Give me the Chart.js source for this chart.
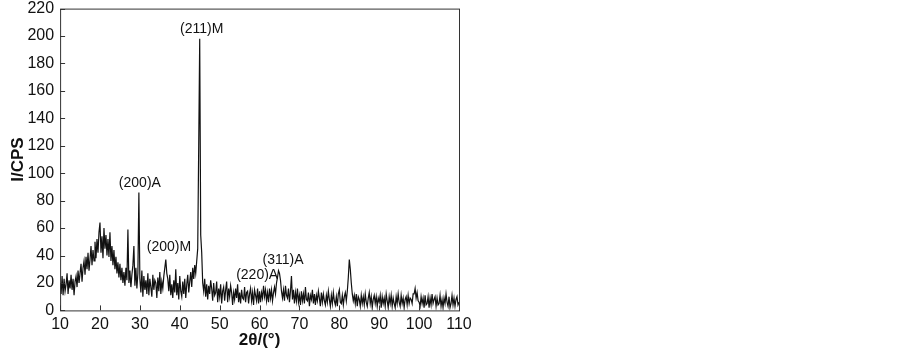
<!DOCTYPE html>
<html>
<head>
<meta charset="utf-8">
<script src="https://cdn.jsdelivr.net/npm/chart.js@4.4.1/dist/chart.umd.min.js"></script>
<style>
    html, body { margin: 0; padding: 0; background: #fff; }
    #wrap { width: 903px; height: 356px; overflow: hidden; }
    #xrdChart { display: block; margin-top: -7px; }
</style>
</head>
<body>
<div id="wrap"><canvas id="xrdChart" width="903" height="363"></canvas></div>
<script>
// scan settings (2θ, degrees)
const scanStart = 10;
const scanStep = 0.25;

// intensity, 4 readings per degree, 10° .. 110°
const intensity = [
    20, 12, 25, 11,   23, 14, 19, 27,   12, 22, 16, 26,   15, 23, 11, 21,   25, 17, 29, 20,   // 10-14
    27, 34, 21, 31,   36, 26, 39, 30,   42, 29, 37, 47,   33, 44, 36, 50,   38, 52, 42, 57,   // 15-19
    64, 42, 54, 38,   60, 45, 55, 40,   52, 39, 57, 36,   47, 33, 44, 30,   39, 27, 35, 24,   // 20-24
    34, 22, 31, 20,   28, 18, 31, 22,   59, 20, 29, 17,   26, 33, 47, 18,   31, 16, 27, 86,   // 25-29
    23, 13, 29, 10,   25, 15, 22, 12,   27, 11, 23, 17,   10, 26, 15, 22,   20, 9, 24, 14,    // 30-34
    28, 12, 21, 16,   25, 31, 37, 27,   23, 14, 26, 11,   19, 9, 22, 13,    30, 11, 20, 8,    // 35-39
    25, 14, 10, 21,   12, 23, 9, 19,    26, 13, 21, 28,   17, 31, 23, 33,   27, 36, 45, 120,  // 40-44
    198, 55, 42, 20,  14, 23, 10, 19,   8, 18, 12, 22,    16, 7, 20, 11,    13, 21, 6, 16,    // 45-49
    10, 19, 5, 14,    17, 7, 15, 21,    6, 16, 10, 18,    13, 4, 13, 8,     16, 9, 19, 6,     // 50-54
    13, 5, 15, 9,     8, 17, 6, 13,     14, 5, 12, 16,    7, 13, 4, 15,     11, 7, 16, 5,     // 55-59
    14, 6, 13, 9,     18, 10, 15, 7,    13, 6, 16, 9,     15, 7, 13, 17,    12, 20, 24, 29,   // 60-64
    27, 22, 14, 9,    15, 7, 18, 11,    9, 16, 6, 14,     25, 8, 15, 5,     13, 7, 16, 6,     // 65-69
    11, 4, 14, 7,     12, 5, 17, 8,     7, 13, 3, 11,     8, 15, 5, 12,     4, 11, 7, 14,     // 70-74
    9, 3, 13, 6,      12, 7, 4, 11,     6, 14, 8, 3,      11, 5, 13, 7,     4, 10, 3, 12,     // 75-79
    15, 6, 5, 11,     4, 10, 13, 7,     14, 24, 37, 30,   20, 12, 7, 11,    5, 12, 3, 10,     // 80-84
    8, 3, 11, 5,      10, 4, 12, 6,     3, 9, 13, 5,      10, 2, 8, 11,     5, 10, 3, 9,      // 85-89
    6, 11, 2, 10,     5, 9, 3, 12,      7, 2, 10, 5,      11, 3, 9, 5,      2, 10, 5, 12,     // 90-94
    6, 3, 11, 5,      9, 2, 8, 10,      4, 11, 5, 9,      8, 5, 12, 12,     16, 9, 13, 7,     // 95-99
    6, 3, 10, 5,      9, 2, 11, 4,      5, 10, 2, 9,      4, 12, 5, 8,      10, 3, 9, 4,      // 100-104
    5, 11, 3, 8,      2, 9, 5, 12,      6, 3, 10, 2,      5, 11, 4, 9,      3, 8, 10, 4,      // 105-109
    6                                                                                          // 110
];

// peak labels: text, 2θ, intensity where the label sits
const peakNames = ['(211)M', '(200)A', '(200)M', '(220)A', '(311)A'];
const peakAngles = [45.5, 30.0, 37.3, 59.4, 65.9];
const peakLevels = [205, 93, 46, 25.5, 36.5];

const xTicks = [10, 20, 30, 40, 50, 60, 70, 80, 90, 100, 110];

const points = intensity.map((v, i) => ({ x: scanStart + i * scanStep, y: v }));

const fontFamily = '"Liberation Sans", Arial, sans-serif';

// box around the plot + inward ticks + peak labels
const framePlugin = {
    id: 'frame',
    afterDraw(chart) {
        const { ctx, chartArea: a, scales } = chart;
        ctx.save();
        ctx.strokeStyle = '#333';
        ctx.lineWidth = 1;
        ctx.strokeRect(a.left + 0.5, a.top + 0.5, a.right - a.left, a.bottom - a.top);

        ctx.beginPath();
        scales.x.ticks.forEach(t => {
            const px = Math.round(scales.x.getPixelForValue(t.value)) + 0.5;
            ctx.moveTo(px, a.bottom);
            ctx.lineTo(px, a.bottom - 5);
        });
        scales.y.ticks.forEach(t => {
            const py = Math.round(scales.y.getPixelForValue(t.value)) + 0.5;
            ctx.moveTo(a.left, py);
            ctx.lineTo(a.left + 5, py);
        });
        ctx.stroke();

        ctx.fillStyle = '#111';
        ctx.font = '14px ' + fontFamily;
        ctx.textAlign = 'center';
        ctx.textBaseline = 'middle';
        peakNames.forEach((name, i) => {
            ctx.fillText(name, scales.x.getPixelForValue(peakAngles[i]), scales.y.getPixelForValue(peakLevels[i]));
        });
        ctx.restore();
    }
};

new Chart(document.getElementById('xrdChart').getContext('2d'), {
    type: 'line',
    data: {
        datasets: [{
            data: points,
            borderColor: '#111',
            borderWidth: 1.2,
            pointRadius: 0,
            tension: 0,
            fill: false
        }]
    },
    options: {
        responsive: false,
        animation: false,
        devicePixelRatio: 1,
        layout: { padding: { left: 8, top: 0, right: 444, bottom: 5 } },
        plugins: {
            legend: { display: false },
            tooltip: { enabled: false }
        },
        scales: {
            x: {
                type: 'linear',
                min: 10,
                max: 110,
                afterBuildTicks: axis => { axis.ticks = xTicks.map(v => ({ value: v })); },
                grid: { display: false, drawTicks: false },
                border: { display: false },
                ticks: { color: '#111', padding: 5, font: { family: fontFamily, size: 16 }, maxRotation: 0 },
                title: { display: true, text: '2θ/(°)', color: '#111', padding: { top: -9, bottom: 0 }, font: { family: fontFamily, size: 17, weight: 'bold' } }
            },
            y: {
                min: 0,
                max: 220,
                grid: { display: false, drawTicks: false },
                border: { display: false },
                ticks: { stepSize: 20, color: '#111', padding: 6, font: { family: fontFamily, size: 16 } },
                title: { display: true, text: 'I/CPS', color: '#111', padding: { top: 0, bottom: -7 }, font: { family: fontFamily, size: 17, weight: 'bold' } }
            }
        }
    },
    plugins: [framePlugin]
});
</script>
</body>
</html>
